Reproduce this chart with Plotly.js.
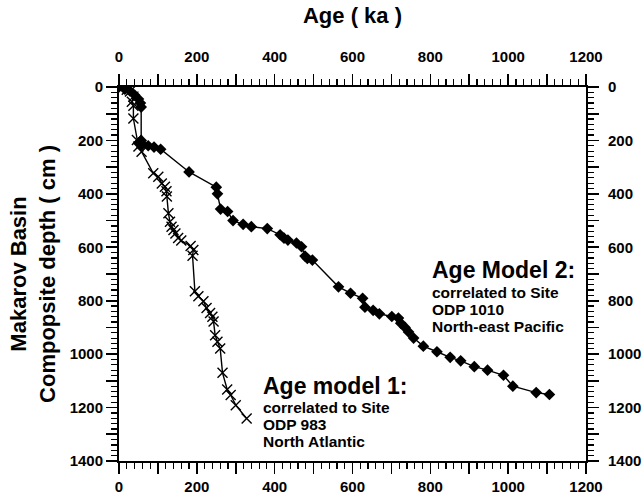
<!DOCTYPE html>
<html>
<head>
<meta charset="utf-8">
<script src="https://cdn.plot.ly/plotly-3.0.1.min.js"></script>
<style>
  html, body { margin: 0; padding: 0; background: #fff; }
  #chart { width: 642px; height: 498px; }
</style>
</head>
<body>
<div id="chart"></div>
<script>
// Age model 1: correlated to ODP 983 (North Atlantic)
const model1Age = [0, 20, 28, 37, 33, 37, 37, 46, 50, 58, 88, 101, 110, 118, 122, 123, 127, 131, 135, 140, 145, 152, 160, 184, 191, 189, 195, 204, 217, 225, 234, 240, 243, 247, 253, 260, 266, 278, 287, 300, 328];
const model1Depth = [0, 10, 17, 36, 55, 70, 118, 198, 223, 242, 323, 336, 361, 373, 390, 410, 473, 504, 523, 535, 548, 565, 575, 595, 610, 632, 765, 783, 802, 827, 846, 860, 878, 929, 954, 979, 1070, 1132, 1153, 1191, 1241];

// Age model 2: correlated to ODP 1010 (North-east Pacific)
const model2Age = [0, 15, 28, 40, 50, 55, 57, 57, 50, 60, 75, 90, 107, 180, 250, 253, 261, 279, 293, 319, 340, 381, 414, 424, 434, 456, 469, 478, 484, 497, 564, 595, 626, 632, 653, 669, 701, 718, 724, 735, 744, 757, 782, 817, 851, 878, 913, 947, 988, 1012, 1072, 1106];
const model2Depth = [0, 8, 15, 30, 45, 60, 75, 200, 210, 215, 220, 225, 233, 318, 375, 400, 457, 466, 500, 514, 523, 530, 553, 566, 573, 584, 598, 633, 642, 648, 748, 772, 791, 824, 836, 849, 859, 865, 884, 900, 917, 940, 970, 991, 1012, 1025, 1047, 1060, 1079, 1120, 1144, 1151];

// Axis ticks: a tick every 100, a label every 200
const ageTickVals = [0, 100, 200, 300, 400, 500, 600, 700, 800, 900, 1000, 1100, 1200];
const ageTickText = ['0', '', '200', '', '400', '', '600', '', '800', '', '1000', '', '1200'];
const depthTickVals = [0, 100, 200, 300, 400, 500, 600, 700, 800, 900, 1000, 1100, 1200, 1300, 1400];
const depthTickText = ['0', '', '200', '', '400', '', '600', '', '800', '', '1000', '', '1200', '', '1400'];

const FONT = 'Liberation Sans, Arial, Helvetica, sans-serif';
const tickFont = { family: FONT, size: 15, color: '#000', weight: 'bold' };

const traces = [
  {
    x: model1Age, y: model1Depth, xaxis: 'x', yaxis: 'y',
    mode: 'lines+markers', type: 'scatter',
    line: { color: '#000', width: 1.4 },
    marker: { symbol: 'x-thin-open', size: 10, color: '#000', line: { color: '#000', width: 1.4 } },
    hoverinfo: 'x+y', showlegend: false
  },
  {
    x: model2Age, y: model2Depth, xaxis: 'x', yaxis: 'y',
    mode: 'lines+markers', type: 'scatter',
    line: { color: '#000', width: 1.4 },
    marker: { symbol: 'diamond', size: 9, color: '#000' },
    hoverinfo: 'x+y', showlegend: false
  },
  // carries the top and right axes
  { x: [], y: [], xaxis: 'x2', yaxis: 'y2', type: 'scatter', mode: 'markers', showlegend: false, hoverinfo: 'skip' }
];

function ageAxis(extra) {
  return Object.assign({
    range: [0, 1200], tickmode: 'array', tickvals: ageTickVals, ticktext: ageTickText,
    ticks: 'outside', ticklen: 11, tickwidth: 1.6, tickcolor: '#000',
    minor: { dtick: 20, ticks: 'outside', ticklen: 6, tickwidth: 1.2, tickcolor: '#000' },
    showline: true, linewidth: 2, linecolor: '#000',
    showgrid: false, zeroline: false, tickfont: tickFont, fixedrange: true
  }, extra);
}
function depthAxis(extra) {
  return Object.assign({
    range: [1400, 0], tickmode: 'array', tickvals: depthTickVals, ticktext: depthTickText,
    ticks: 'outside', ticklen: 11, tickwidth: 1.6, tickcolor: '#000',
    minor: { dtick: 20, ticks: 'outside', ticklen: 6, tickwidth: 1.2, tickcolor: '#000' },
    showline: true, linewidth: 2, linecolor: '#000',
    showgrid: false, zeroline: false, tickfont: tickFont, fixedrange: true
  }, extra);
}

const noteBig = { family: FONT, size: 23, color: '#000', weight: 'bold' };
const noteSmall = { family: FONT, size: 15.5, color: '#000', weight: 'bold' };
function note(text, x, y, font) {
  return { text: text, x: x, y: y, xref: 'x', yref: 'y', xanchor: 'left', yanchor: 'middle',
           showarrow: false, font: font };
}

const layout = {
  width: 642, height: 498,
  margin: { l: 119, r: 56, t: 87, b: 37, pad: 0 },
  paper_bgcolor: '#fff', plot_bgcolor: '#fff',
  showlegend: false,
  xaxis: ageAxis({ side: 'bottom', anchor: 'y' }),
  xaxis2: ageAxis({
    side: 'top', overlaying: 'x', anchor: 'y', ticklabelstandoff: 6,
    title: { text: 'Age ( ka )', font: { family: FONT, size: 22, color: '#000', weight: 'bold' }, standoff: 18 }
  }),
  yaxis: depthAxis({
    side: 'left', anchor: 'x',
    title: { text: 'Makarov Basin<br>Compopsite depth ( cm )', font: { family: FONT, size: 22, color: '#000', weight: 'bold' }, standoff: 8 }
  }),
  yaxis2: depthAxis({ side: 'right', overlaying: 'y', anchor: 'x', ticklabelstandoff: 6 }),
  annotations: [
    note('Age Model 2:', 799, 685, noteBig),
    note('correlated to Site', 799, 770, noteSmall),
    note('ODP 1010', 799, 831, noteSmall),
    note('North-east Pacific', 799, 895, noteSmall),
    note('Age model 1:', 365, 1120, noteBig),
    note('correlated to Site', 365, 1200, noteSmall),
    note('ODP 983', 365, 1263, noteSmall),
    note('North Atlantic', 365, 1327, noteSmall)
  ]
};

Plotly.newPlot('chart', traces, layout, { displayModeBar: false, staticPlot: true });
</script>
</body>
</html>
